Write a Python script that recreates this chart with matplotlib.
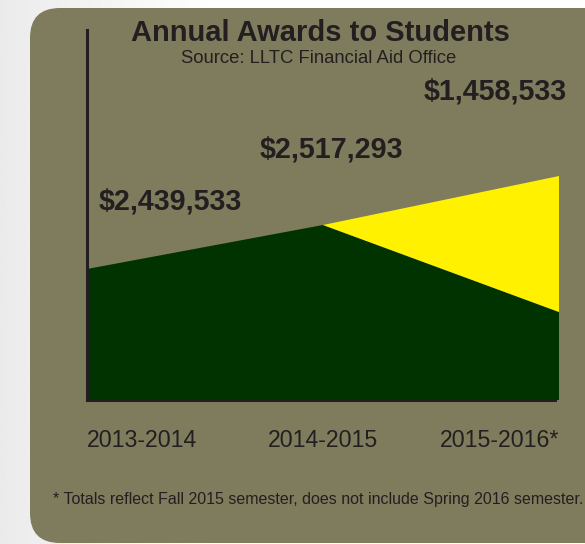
import numpy as np
import matplotlib.pyplot as plt
from matplotlib.patches import FancyBboxPatch

plt.rcParams['font.family'] = ['Liberation Sans', 'DejaVu Sans']

# data
years = ["2013-2014", "2014-2015", "2015-2016*"]
totals = ["$2,439,533", "$2,517,293", "$1,458,533"]
dark_part = [131, 175, 88]      # (chart units)
yellow_part = [0, 0, 136]

W, H = 585, 544
olive = "#7f7b5d"
txt = "#231f20"

fig = plt.figure(figsize=(W / 100, H / 100), dpi=100)

# background: light gray gradient + rounded olive panel
bg = fig.add_axes([0, 0, 1, 1])
bg.set_xlim(0, W)
bg.set_ylim(H, 0)
bg.axis('off')
grad = np.linspace(0.92, 1.0, 256)
bg.imshow(np.tile(grad, (2, 1)), cmap='gray', vmin=0, vmax=1,
          extent=[0, 220, H, 0], aspect='auto')
bg.add_patch(plt.Rectangle((220, 0), W - 220, H, color='white', zorder=0.5))
bg.add_patch(FancyBboxPatch((30, 8), 600, 535, boxstyle="round,pad=0,rounding_size=30",
                            facecolor=olive, edgecolor='none', zorder=1))


def px(x, y):
    return x / W, 1 - y / H


ax = fig.add_axes([87 / W, (H - 400) / H, (559 - 87) / W, (400 - 30) / H])
ax.set_facecolor('none')
x = np.arange(len(years))
ax.stackplot(x, dark_part, yellow_part, colors=["#003300", "#fff100"], linewidth=0)
ax.set_xlim(0, 2)
ax.set_ylim(0, 370)
for s in ['top', 'right']:
    ax.spines[s].set_visible(False)
for s in ['left', 'bottom']:
    ax.spines[s].set_color(txt)
    ax.spines[s].set_linewidth(2.2)
ax.spines['bottom'].set_bounds(0, 1.985)
ax.set_yticks([])
ax.set_xticks(x, years)
ax.tick_params(axis='x', length=0, pad=21, labelsize=16.7, labelcolor=txt)
for lab, ha in zip(ax.get_xticklabels(), ['left', 'center', 'right']):
    lab.set_ha(ha)
ax.get_xticklabels()[1].set_x(0.985)

fig.text(*px(320, 41), "Annual Awards to Students", ha='center', va='baseline',
         fontsize=21, fontweight='bold', color=txt)
fig.text(*px(319, 63), "Source: LLTC Financial Aid Office", ha='center', va='baseline',
         fontsize=13.3, color=txt)

label_pos = [(170, 209), (331, 157), (495, 100)]
for (lx, ly), t in zip(label_pos, totals):
    fig.text(*px(lx, ly), t, ha='center', va='baseline', fontsize=20.7,
             fontweight='bold', color=txt)

fig.text(*px(318, 504), "* Totals reflect Fall 2015 semester, does not include Spring 2016 semester.",
         ha='center', va='baseline', fontsize=11.5, color=txt)

fig.savefig("out.png", dpi=100)
